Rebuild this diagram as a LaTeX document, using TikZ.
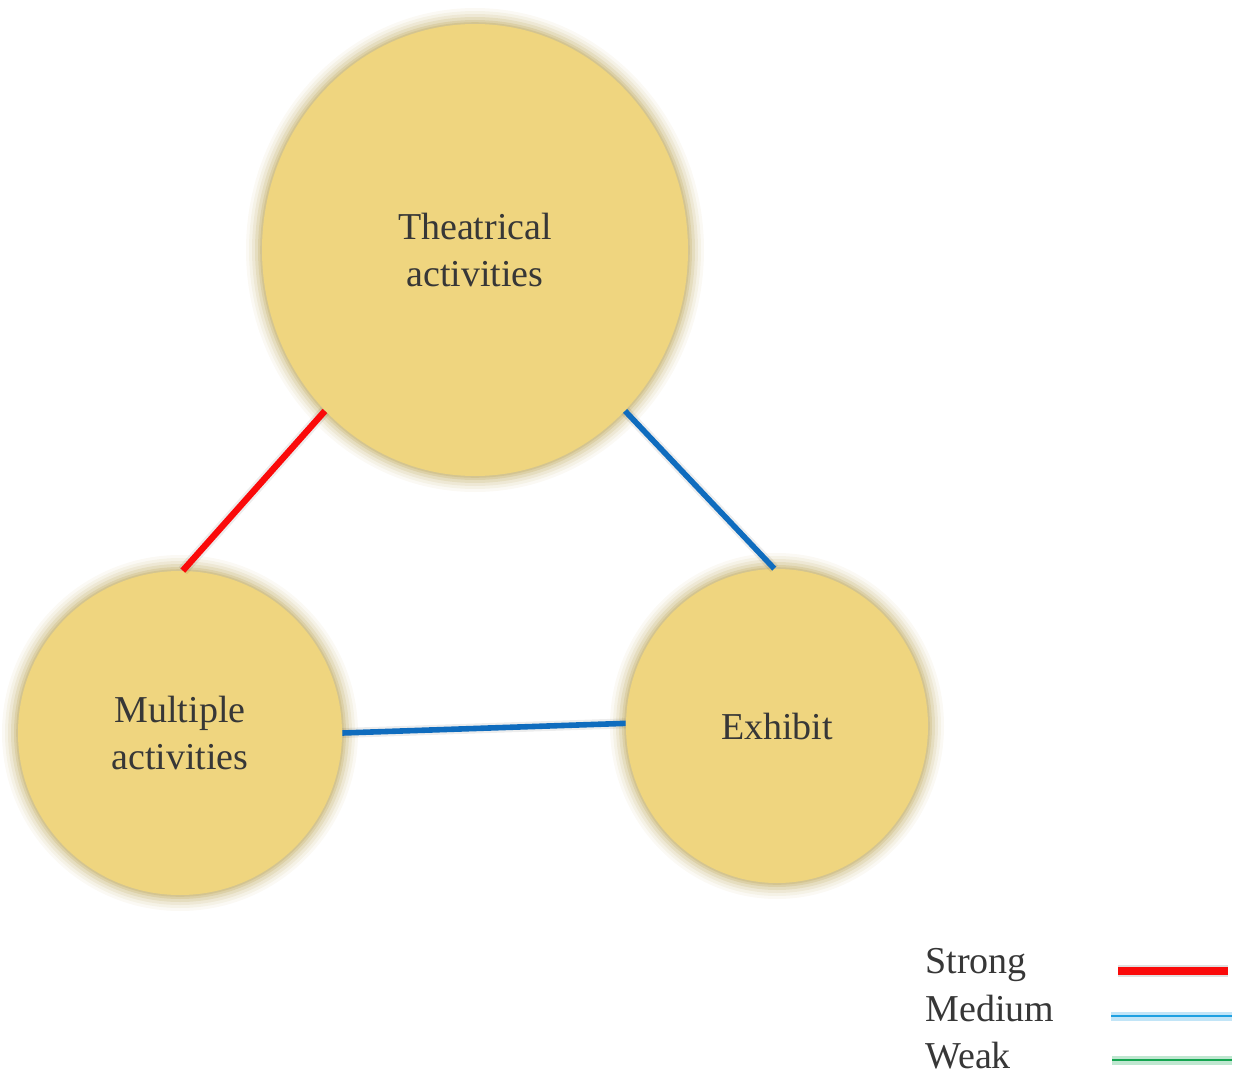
\documentclass[tikz,border=0pt]{standalone}
\usepackage{fontspec}
\setmainfont{Liberation Serif}
\usetikzlibrary{shapes.geometric}

\definecolor{discfill}{RGB}{239,213,127}
\definecolor{discglow}{RGB}{195,175,105}
\definecolor{strongred}{RGB}{250,10,10}
\definecolor{linkblue}{RGB}{15,108,190}
\definecolor{medblue}{RGB}{30,160,225}
\definecolor{weakgreen}{RGB}{20,165,80}
\definecolor{inkgrey}{RGB}{55,55,55}

\begin{document}
\begin{tikzpicture}
[
	x=0.5pt,y=-0.5pt,
	disc/.style={ellipse,fill=discfill,inner sep=0pt,align=center,text=inkgrey,
		font=\fontsize{19}{23.5}\selectfont,
		preaction={draw=discglow,line width=16pt,opacity=0.07},
		preaction={draw=discglow,line width=13pt,opacity=0.1},
		preaction={draw=discglow,line width=10pt,opacity=0.14},
		preaction={draw=discglow,line width=7pt,opacity=0.2},
		preaction={draw=discglow,line width=4pt,opacity=0.28},
		preaction={draw=discglow,line width=1.8pt,opacity=0.35}},
	keytext/.style={anchor=base west,inner sep=0pt,text=inkgrey,font=\fontsize{19}{23.5}\selectfont},
	strong/.style={strongred,line width=3.2pt,
		preaction={draw=black,line width=5.5pt,opacity=0.07}},
	medium/.style={linkblue,line width=2.8pt,
		preaction={draw=black,line width=5pt,opacity=0.07}},
	keystrong/.style={strongred,line width=3.6pt,
		preaction={draw=black,line width=6.2pt,opacity=0.12}},
	keymedium/.style={medblue,line width=1.4pt,
		preaction={draw=medblue!45,line width=4.5pt,opacity=0.6}},
	keyweak/.style={weakgreen,line width=1.4pt,
		preaction={draw=weakgreen!45,line width=4.5pt,opacity=0.6}}
]

	\useasboundingbox (0,0) rectangle (1238,1076);

	\node[disc,minimum width=213pt,minimum height=226pt] at (475,250) (theat) {Theatrical\\activities};
	\node[disc,minimum width=162pt,minimum height=162pt] at (180,733) (multi) {Multiple\\activities};
	\node[disc,minimum width=151pt,minimum height=157pt] at (777,726) (exhib) {Exhibit};

	\draw[strong] (theat.227) -- (multi.89);
	\draw[medium] (theat.313) -- (exhib.91.5);
	\draw[medium] (multi.0) -- (exhib.179);

	\node[keytext] at (925,973) (kstrong) {Strong};
	\node[keytext] at (925,1021) (kmedium) {Medium};
	\node[keytext] at (925,1068) (kweak) {Weak};

	\coordinate (s1) at (1118,971);
	\coordinate (s2) at (1228,971);
	\coordinate (m1) at (1111,1016);
	\coordinate (m2) at (1232,1016);
	\coordinate (w1) at (1112,1060);
	\coordinate (w2) at (1232,1060);

	\draw[keystrong] (s1) -- (s2);
	\draw[keymedium] (m1) -- (m2);
	\draw[keyweak] (w1) -- (w2);

\end{tikzpicture}
\end{document}
